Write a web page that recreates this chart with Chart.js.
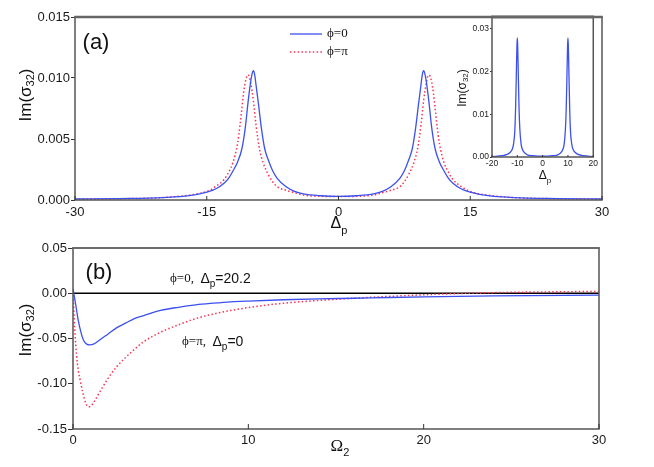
<!DOCTYPE html>
<html>
<head>
<meta charset="utf-8">
<script src="https://cdn.jsdelivr.net/npm/chart.js@4.4.1/dist/chart.umd.min.js"></script>
<style>
  body { margin: 0; background: #fff; }
  #wrap { position: relative; width: 654px; height: 467px; }
  canvas { position: absolute; }
</style>
</head>
<body>
<div id="wrap">
  <canvas id="chartA" width="654" height="245" style="left:0;top:0;width:654px;height:245px"></canvas>
  <canvas id="chartB" width="654" height="235" style="left:0;top:232px;width:654px;height:235px"></canvas>
  <canvas id="chartInset" width="160" height="190" style="left:440px;top:0;width:160px;height:190px"></canvas>
</div>
<script>
// panel (a): Im(sigma32) vs probe detuning
const deltaA0 = [-30,-25,-20,-17,-15,-14,-13,-12.5,-12,-11.5,-11,-10.6,-10.3,-10,-9.85,-9.7,-9.55,-9.4,-9.1,-8.8,-8.4,-8,-7.5,-7,-6,-5,-4,-2,0,
  2,4,5,6,7,7.5,8,8.4,8.8,9.1,9.4,9.55,9.7,9.85,10,10.3,10.6,11,11.5,12,12.5,13,14,15,17,20,25,30];
const imA0 = [0.00008,0.00012,0.0002,0.00035,0.00065,0.0009,0.0014,0.0018,0.0024,0.0031,0.0042,0.006,0.008,0.0097,0.0103,0.0106,0.0103,0.0095,0.0078,0.006,0.0042,0.0033,0.0024,0.0018,0.0011,0.0007,0.0005,0.00035,0.0003,
  0.00035,0.0005,0.0007,0.0011,0.0018,0.0024,0.0033,0.0042,0.006,0.0078,0.0095,0.0103,0.0106,0.0103,0.0097,0.008,0.006,0.0042,0.0031,0.0024,0.0018,0.0014,0.0009,0.00065,0.00035,0.0002,0.00012,0.00008];
const deltaApi = [-30,-25,-20,-17,-15,-14,-13,-12.5,-12,-11.5,-11.2,-10.8,-10.6,-10.45,-10.3,-10.15,-10,-9.7,-9.4,-9,-8.6,-8,-7.5,-7,-6,-5,-4,-2,0,
  2,4,5,6,7,7.5,8,8.6,9,9.4,9.7,10,10.15,10.3,10.45,10.6,10.8,11.2,11.5,12,12.5,13,14,15,17,20,25,30];
const imApi = [0.00007,0.0001,0.0002,0.0004,0.0007,0.0011,0.0017,0.0023,0.0031,0.0046,0.0062,0.0088,0.0097,0.0101,0.01025,0.0101,0.0096,0.0082,0.0062,0.0042,0.0031,0.0021,0.0015,0.0011,0.0008,0.0006,0.0004,0.0003,0.00028,
  0.0003,0.0004,0.0006,0.0008,0.0011,0.0015,0.0021,0.0031,0.0042,0.0062,0.0082,0.0096,0.0101,0.01025,0.0101,0.0097,0.0088,0.0062,0.0046,0.0031,0.0023,0.0017,0.0011,0.0007,0.0004,0.0002,0.0001,0.00007];
const ticksAX = [-30,-15,0,15,30];
const ticksAY = [0,0.005,0.01,0.015];

// inset
const deltaIn = [-20,-16,-14,-13,-12,-11.5,-11,-10.7,-10.4,-10.15,-10,-9.85,-9.6,-9.3,-9,-8.5,-8,-7,-6,-4,-2,0,
  2,4,6,7,8,8.5,9,9.3,9.6,9.85,10,10.15,10.4,10.7,11,11.5,12,13,14,16,20];
const imIn = [0.0001,0.0003,0.0006,0.001,0.0018,0.003,0.006,0.011,0.019,0.026,0.0278,0.026,0.019,0.011,0.0065,0.003,0.0018,0.0009,0.0005,0.0003,0.0002,0.0002,
  0.0002,0.0003,0.0005,0.0009,0.0018,0.003,0.0065,0.011,0.019,0.026,0.0278,0.026,0.019,0.011,0.006,0.003,0.0018,0.001,0.0006,0.0003,0.0001];
const ticksInX = [-20,-10,0,10,20];
const ticksInY = [0,0.01,0.02,0.03];

// panel (b): Im(sigma32) vs Omega2
const omegaB0 = [0,0.15,0.3,0.45,0.6,0.8,0.95,1.2,1.5,2,2.5,3,3.5,4,5,6,7,8,9,10,12,14,16,18,20,24,30];
const imB0 = [0.005,-0.012,-0.03,-0.043,-0.052,-0.0565,-0.057,-0.056,-0.052,-0.045,-0.038,-0.033,-0.028,-0.025,-0.019,-0.0155,-0.0128,-0.011,-0.0095,-0.0086,-0.0072,-0.0062,-0.0055,-0.0047,-0.004,-0.003,-0.002];
const omegaBpi = [0,0.1,0.2,0.3,0.4,0.55,0.7,0.87,1,1.2,1.5,2,2.5,3,3.5,4,5,6,7,8,9,10,11,12,14,16,18,20,22,24,26,28,30];
const imBpi = [0.002,-0.04,-0.068,-0.085,-0.095,-0.109,-0.12,-0.1255,-0.125,-0.12,-0.11,-0.094,-0.081,-0.071,-0.062,-0.054,-0.043,-0.035,-0.028,-0.023,-0.019,-0.0158,-0.0132,-0.011,-0.008,-0.0055,-0.0035,-0.0017,-0.0003,0.0007,0.0013,0.0017,0.002];
const ticksBX = [0,10,20,30];
const ticksBY = [-0.15,-0.1,-0.05,0,0.05];

const BLUE = "rgb(60,80,240)";
const RED = "rgb(250,50,85)";
const SANS = "'Liberation Sans', Arial, sans-serif";
const SERIF = "'Liberation Serif', 'Times New Roman', serif";

Chart.defaults.font.family = SANS;
Chart.defaults.color = "#1a1a1a";

function pts(xs, ys) {
  return xs.map((x, i) => ({ x: x, y: ys[i] }));
}

function solid(xs, ys) {
  return { data: pts(xs, ys), borderColor: BLUE, borderWidth: 1.3, pointRadius: 0, cubicInterpolationMode: "monotone" };
}

function dotted(xs, ys) {
  return { data: pts(xs, ys), borderColor: RED, borderWidth: 1.5, borderDash: [1.5, 2.3], pointRadius: 0, cubicInterpolationMode: "monotone" };
}

// text with subscript parts
function drawRich(ctx, parts, x, y, align, angle) {
  ctx.save();
  ctx.translate(x, y);
  if (angle) ctx.rotate(angle);
  let w = 0;
  parts.forEach(p => { ctx.font = p.font; w += ctx.measureText(p.text).width; });
  let cx = align === "center" ? -w / 2 : 0;
  ctx.textAlign = "left";
  ctx.textBaseline = "middle";
  ctx.fillStyle = "#111";
  parts.forEach(p => {
    ctx.font = p.font;
    ctx.fillText(p.text, cx, p.dy || 0);
    cx += ctx.measureText(p.text).width;
  });
  ctx.restore();
}

function imSigma(big, small, dy) {
  return [
    { text: "Im(σ", font: big + "px " + SANS },
    { text: "32", font: small + "px " + SANS, dy: dy },
    { text: ")", font: big + "px " + SANS }
  ];
}

// frame + inward ticks on the bottom axis
function framePlugin(topWidth, tickLen) {
  return {
    id: "frame",
    beforeDraw(chart) {
      const a = chart.chartArea, ctx = chart.ctx;
      ctx.save();
      ctx.fillStyle = "#fff";
      ctx.fillRect(a.left, a.top, a.right - a.left, a.bottom - a.top);
      ctx.restore();
    },
    afterDatasetsDraw(chart) {
      const a = chart.chartArea, ctx = chart.ctx, xs = chart.scales.x;
      ctx.save();
      ctx.strokeStyle = "#555";
      ctx.lineWidth = 1.5;
      ctx.strokeRect(a.left, a.top, a.right - a.left, a.bottom - a.top);
      ctx.strokeStyle = "#666";
      ctx.lineWidth = topWidth;
      ctx.beginPath();
      ctx.moveTo(a.left - 0.75, a.top);
      ctx.lineTo(a.right + 0.75, a.top);
      ctx.stroke();
      ctx.strokeStyle = "#333";
      ctx.lineWidth = 1;
      xs.ticks.forEach(t => {
        const px = xs.getPixelForValue(t.value);
        ctx.beginPath();
        ctx.moveTo(px, a.bottom);
        ctx.lineTo(px, a.bottom - tickLen);
        ctx.stroke();
      });
      ctx.restore();
    }
  };
}

function axes(o) {
  return {
    x: {
      type: "linear", min: o.xMin, max: o.xMax,
      afterBuildTicks: s => { s.ticks = o.xTicks.map(v => ({ value: v })); },
      afterFit: s => { s.height = o.xH; },
      grid: { display: false, drawTicks: false, tickLength: 0 },
      border: { display: false },
      ticks: { font: { size: o.font }, padding: o.xPad, maxRotation: 0, color: "#1a1a1a", callback: v => String(v) }
    },
    y: {
      type: "linear", min: o.yMin, max: o.yMax,
      afterBuildTicks: s => { s.ticks = o.yTicks.map(v => ({ value: v })); },
      afterFit: s => { s.width = o.yW; },
      grid: { drawOnChartArea: false, drawTicks: true, tickLength: o.tl, color: "#333" },
      border: { display: false },
      ticks: { font: { size: o.font }, padding: o.yPad, color: "#1a1a1a", callback: v => v.toFixed(o.dec) }
    }
  };
}

const common = {
  responsive: false,
  maintainAspectRatio: false,
  animation: false,
  devicePixelRatio: 1,
  plugins: { legend: { display: false }, tooltip: { enabled: false } }
};

// panel (a)
new Chart(document.getElementById("chartA"), {
  type: "line",
  data: { datasets: [solid(deltaA0, imA0), dotted(deltaApi, imApi)] },
  options: Object.assign({}, common, {
    layout: { padding: { left: 0, top: 17, right: 52, bottom: 13 } },
    scales: axes({ xMin: -30, xMax: 30, xTicks: ticksAX, yMin: 0, yMax: 0.015, yTicks: ticksAY,
      xH: 32, yW: 75, font: 13, xPad: 5, yPad: 1, tl: 4, dec: 3 })
  }),
  plugins: [framePlugin(2.5, 4), {
    id: "labelsA",
    afterDraw(chart) {
      const ctx = chart.ctx;
      drawRich(ctx, imSigma(17, 11, 5), 26, 95, "center", -Math.PI / 2);
      drawRich(ctx, [{ text: "Δ", font: "16px " + SANS }, { text: "p", font: "11px " + SANS, dy: 7 }], 339, 224, "center");
      drawRich(ctx, [{ text: "(a)", font: "22px " + SANS }], 96, 43, "center");
      ctx.save();
      ctx.lineWidth = 1.3;
      ctx.strokeStyle = BLUE;
      ctx.beginPath(); ctx.moveTo(290, 34); ctx.lineTo(322, 34); ctx.stroke();
      ctx.strokeStyle = RED;
      ctx.lineWidth = 1.5;
      ctx.setLineDash([1.5, 2.3]);
      ctx.beginPath(); ctx.moveTo(290, 52); ctx.lineTo(322, 52); ctx.stroke();
      ctx.restore();
      drawRich(ctx, [{ text: "ϕ=0", font: "13px " + SERIF }], 327, 34, "left");
      drawRich(ctx, [{ text: "ϕ=π", font: "13px " + SERIF }], 327, 52, "left");
    }
  }]
});

// inset
new Chart(document.getElementById("chartInset"), {
  type: "line",
  data: { datasets: [solid(deltaIn, imIn)] },
  options: Object.assign({}, common, {
    layout: { padding: { left: 0, top: 17, right: 4, bottom: 0 } },
    scales: axes({ xMin: -20, xMax: 20, xTicks: ticksInX, yMin: 0, yMax: 0.0327, yTicks: ticksInY,
      xH: 33, yW: 52, font: 8.5, xPad: 2, yPad: 1, tl: 2, dec: 2 })
  }),
  plugins: [framePlugin(3, 2), {
    id: "labelsIn",
    afterDraw(chart) {
      const ctx = chart.ctx;
      drawRich(ctx, imSigma(12, 8, 3), 23, 88, "center", -Math.PI / 2);
      drawRich(ctx, [{ text: "Δ", font: "12px " + SANS }, { text: "p", font: "8px " + SANS, dy: 5 }], 105, 176, "center");
    }
  }]
});

// panel (b)
new Chart(document.getElementById("chartB"), {
  type: "line",
  data: { datasets: [solid(omegaB0, imB0), dotted(omegaBpi, imBpi)] },
  options: Object.assign({}, common, {
    layout: { padding: { left: 0, top: 16, right: 55, bottom: 0 } },
    scales: axes({ xMin: 0, xMax: 30, xTicks: ticksBX, yMin: -0.15, yMax: 0.05, yTicks: ticksBY,
      xH: 38, yW: 73, font: 13, xPad: 4, yPad: 1, tl: 5, dec: 2 })
  }),
  plugins: [{
    id: "zeroLine",
    beforeDatasetsDraw(chart) {
      const a = chart.chartArea, ctx = chart.ctx;
      const py = chart.scales.y.getPixelForValue(0);
      ctx.save();
      ctx.strokeStyle = "#000";
      ctx.lineWidth = 1.3;
      ctx.beginPath(); ctx.moveTo(a.left, py); ctx.lineTo(a.right, py); ctx.stroke();
      ctx.restore();
    }
  }, framePlugin(1.5, 5), {
    id: "labelsB",
    afterDraw(chart) {
      const ctx = chart.ctx;
      drawRich(ctx, imSigma(17, 11, 5), 26, 98, "center", -Math.PI / 2);
      drawRich(ctx, [{ text: "Ω", font: "17px " + SERIF }, { text: "2", font: "11px " + SANS, dy: 6 }], 340, 215, "center");
      drawRich(ctx, [{ text: "(b)", font: "22px " + SANS }], 99, 41, "center");
      drawRich(ctx, [
        { text: "ϕ=0,  ", font: "13px " + SERIF },
        { text: "Δ", font: "14px " + SANS },
        { text: "p", font: "10px " + SANS, dy: 5 },
        { text: "=20.2", font: "14px " + SANS }
      ], 170, 47, "left");
      drawRich(ctx, [
        { text: "ϕ=π,  ", font: "13px " + SERIF },
        { text: "Δ", font: "14px " + SANS },
        { text: "p", font: "10px " + SANS, dy: 5 },
        { text: "=0", font: "14px " + SANS }
      ], 182, 110, "left");
    }
  }]
});
</script>
</body>
</html>
